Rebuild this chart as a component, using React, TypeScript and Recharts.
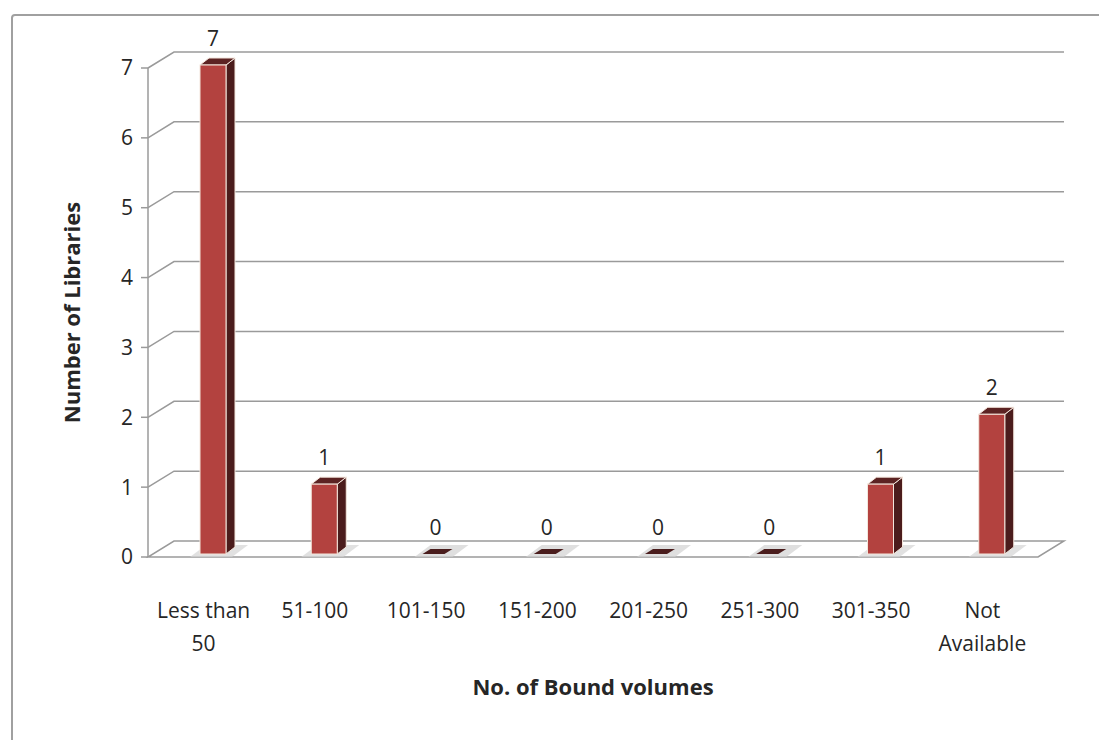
import { BarChart, Bar, XAxis, YAxis, CartesianGrid, LabelList } from 'recharts';

const categories = ['Less than 50', '51-100', '101-150', '151-200', '201-250', '251-300', '301-350', 'Not Available'];
const libraries = [7, 1, 0, 0, 0, 0, 1, 2];
const yTicks = [0, 1, 2, 3, 4, 5, 6, 7];

const data = categories.map((name, i) => ({ name, libraries: libraries[i] }));

const FONT = '"Open Sans", Lato, sans-serif';
const DEPTH_X = 26;
const DEPTH_Y = -16;
const GRID = '#9a9a9a';

// 3D-ish column: front face, darker side and top
function Column(props: any) {
  const { x, y, width, height } = props;
  const fx = x + 9;
  const top = y - 3;
  const bottom = y + height - 3;
  const sx = 9;
  const sy = -7;
  if (!height) {
    return (
      <g>
        <polygon
          points={`${fx - 8},${bottom + 3} ${fx + width + 4},${bottom + 3} ${fx + width + 20},${bottom - 9} ${fx + 8},${bottom - 9}`}
          fill="#d2d2d2"
          opacity={0.7}
        />
        <polygon
          points={`${fx},${bottom} ${fx + width - 4},${bottom} ${fx + width + 4},${bottom - 5} ${fx + 8},${bottom - 5}`}
          fill="#4a1d1d"
        />
      </g>
    );
  }
  return (
    <g>
      <polygon
        points={`${fx - 10},${bottom + 3} ${fx + width + 6},${bottom + 3} ${fx + width + 22},${bottom - 9} ${fx + 6},${bottom - 9}`}
        fill="#d4d4d4"
        opacity={0.7}
      />
      <polygon
        points={`${fx + width},${top} ${fx + width + sx},${top + sy} ${fx + width + sx},${bottom + sy} ${fx + width},${bottom}`}
        fill="#4b1c1c"
        stroke="#f3e6dc"
        strokeWidth={1}
      />
      <polygon
        points={`${fx},${top} ${fx + sx},${top + sy} ${fx + width + sx},${top + sy} ${fx + width},${top}`}
        fill="#5c2323"
        stroke="#f3e6dc"
        strokeWidth={1}
      />
      <rect x={fx} y={top} width={width} height={bottom - top} fill="#b3423f" stroke="#f3e6dc" strokeWidth={1} />
    </g>
  );
}

function ValueLabel(props: any) {
  const { x, y, width, value } = props;
  return (
    <text x={x + 9 + width / 2} y={y - 22} textAnchor="middle" fontSize={21} fill="#262626" fontFamily={FONT}>
      {value}
    </text>
  );
}

function GridLine(props: any) {
  const { x1, y1, x2, y, height } = props;
  const isFloor = Math.abs(y1 - (y + height)) < 1;
  if (isFloor) {
    return (
      <polygon
        key={props.key}
        points={`${x1},${y1} ${x2},${y1} ${x2 + DEPTH_X},${y1 + DEPTH_Y} ${x1 + DEPTH_X},${y1 + DEPTH_Y}`}
        fill="#ffffff"
        stroke={GRID}
        strokeWidth={1.5}
      />
    );
  }
  return (
    <path
      key={props.key}
      d={`M${x1},${y1} L${x1 + DEPTH_X},${y1 + DEPTH_Y} L${x2 + DEPTH_X},${y1 + DEPTH_Y}`}
      fill="none"
      stroke={GRID}
      strokeWidth={1.5}
    />
  );
}

function CategoryTick(props: any) {
  const { x, y, payload } = props;
  const label: string = payload.value;
  const cut = label.length > 8 ? label.lastIndexOf(' ') : -1;
  const lines = cut > 0 ? [label.slice(0, cut), label.slice(cut + 1)] : [label];
  return (
    <text x={x} y={y} textAnchor="middle" fontSize={21} fill="#262626" fontFamily={FONT}>
      {lines.map((l, i) => (
        <tspan key={i} x={x} y={y + 53 + i * 33}>
          {l}
        </tspan>
      ))}
    </text>
  );
}

export default function App() {
  return (
    <div style={{ position: 'absolute', left: 0, top: 0, width: 1099, height: 740, overflow: 'hidden', background: '#fff' }}>
      <div
        style={{
          position: 'absolute',
          left: 11,
          top: 14,
          width: 1200,
          height: 900,
          border: '2px solid #a0a0a0',
          borderRadius: 4,
        }}
      />
      <div style={{ position: 'absolute', left: 0, top: 0 }}>
        <BarChart width={1099} height={740} data={data} margin={{ top: 68, right: 61, bottom: 83, left: 78 }}>
          <CartesianGrid vertical={false} horizontal={GridLine} />
          <XAxis
            dataKey="name"
            axisLine={false}
            tickLine={false}
            height={100}
            interval={0}
            tick={CategoryTick}
            label={{
              value: 'No. of Bound volumes',
              position: 'insideBottom',
              offset: -38,
              style: { fontSize: 22, fontWeight: 700, fill: '#262626', fontFamily: FONT },
            }}
          />
          <YAxis
            width={70}
            domain={[0, 7]}
            ticks={yTicks}
            interval={0}
            axisLine={{ stroke: GRID, strokeWidth: 1.5 }}
            tickLine={{ stroke: GRID, strokeWidth: 1.5 }}
            tickSize={7}
            tickMargin={8}
            tick={{ fontSize: 21, fill: '#262626', fontFamily: FONT }}
            label={{
              value: 'Number of Libraries',
              angle: -90,
              position: 'insideLeft',
              offset: -6,
              style: { fontSize: 22, fontWeight: 700, fill: '#262626', fontFamily: FONT, textAnchor: 'middle' },
            }}
          />
          <Bar dataKey="libraries" barSize={26} shape={Column} isAnimationActive={false}>
            <LabelList dataKey="libraries" content={ValueLabel} />
          </Bar>
        </BarChart>
      </div>
    </div>
  );
}
